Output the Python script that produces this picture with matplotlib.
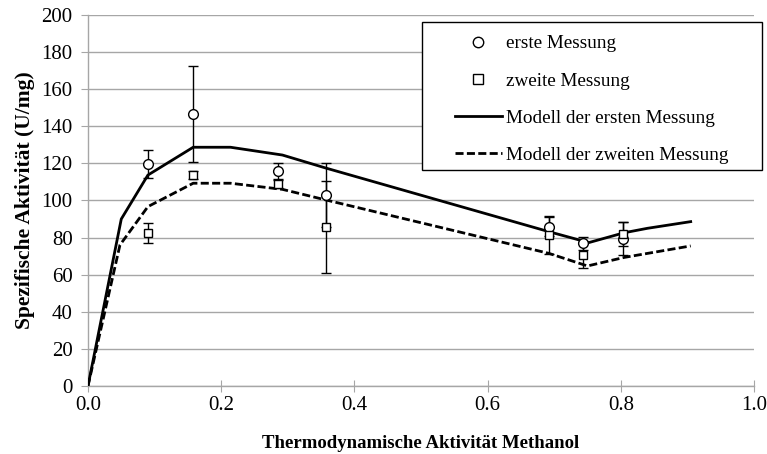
import matplotlib
matplotlib.use('Agg')
import matplotlib.pyplot as plt
from matplotlib.lines import Line2D
from matplotlib.patches import Rectangle

plt.rcParams['font.family'] = ['Liberation Serif', 'DejaVu Serif']

# Messwerte (Methanol-Aktivität, spezifische Aktivität, Fehler)
x_mess = [0.090, 0.158, 0.285, 0.357, 0.692, 0.744, 0.804]
y_erste = [119.5, 146.6, 116.1, 103.0, 85.9, 76.9, 79.5]
err_erste = [7.5, 25.7, 4.3, 17.4, 5.0, 3.4, 9.0]
y_zweite = [82.3, 113.7, 108.9, 85.9, 81.4, 70.6, 82.0]
err_zweite = [5.4, 2.2, 2.0, 24.8, 10.2, 7.0, 6.5]

# Modellkurven
x_mod1 = [0.0, 0.050, 0.090, 0.158, 0.214, 0.292, 0.357, 0.692, 0.752, 0.805, 0.840, 0.905]
y_mod1 = [0.0, 90.0, 113.7, 128.7, 128.7, 124.5, 117.5, 83.2, 77.3, 82.6, 85.0, 88.6]
x_mod2 = [0.0, 0.048, 0.090, 0.158, 0.214, 0.292, 0.357, 0.692, 0.750, 0.805, 0.905]
y_mod2 = [0.0, 76.0, 96.7, 109.3, 109.3, 106.0, 100.3, 71.5, 64.7, 69.3, 75.5]

labels = ['erste Messung', 'zweite Messung',
          'Modell der ersten Messung', 'Modell der zweiten Messung']

fig = plt.figure(figsize=(7.67, 4.54), dpi=100)
ax = fig.add_axes([0.1147, 0.1498, 0.8683, 0.8172])

ax.errorbar(x_mess, y_erste, yerr=err_erste, fmt='o', mfc='white', mec='black',
            ms=7, mew=1.0, ecolor='black', elinewidth=1.0, capsize=3.6, capthick=1.0,
            zorder=4)
ax.errorbar(x_mess, y_zweite, yerr=err_zweite, fmt='s', mfc='white', mec='black',
            ms=6, mew=1.0, ecolor='black', elinewidth=1.0, capsize=3.6, capthick=1.0,
            zorder=4)
ax.plot(x_mod1, y_mod1, color='black', lw=2.0, zorder=3)
ax.plot(x_mod2, y_mod2, color='black', lw=2.0, dashes=(2.9, 1.2), zorder=3)

ax.set_xlim(0, 1.0)
ax.set_ylim(0, 200)
ax.set_xticks([0.0, 0.2, 0.4, 0.6, 0.8, 1.0])
ax.set_xticklabels(['0.0', '0.2', '0.4', '0.6', '0.8', '1.0'])
ax.set_yticks(range(0, 201, 20))

ax.grid(axis='y', color='#a6a6a6', lw=1.0)
ax.set_axisbelow(True)
for s in ['top', 'right']:
    ax.spines[s].set_visible(False)
for s in ['left', 'bottom']:
    ax.spines[s].set_color('#a6a6a6')
    ax.spines[s].set_linewidth(1.0)
ax.tick_params(axis='x', direction='inout', length=9, color='#a6a6a6', labelsize=15, pad=3)
ax.tick_params(axis='y', direction='out', length=5, color='#a6a6a6', labelsize=15, pad=6)

ax.set_xlabel('Thermodynamische Aktivität Methanol', fontsize=13.5, fontweight='bold', labelpad=14)
ax.set_ylabel('Spezifische Aktivität (U/mg)', fontsize=15.5, fontweight='bold', labelpad=5)

# Rahmen der Legende (ragt über die Achse hinaus)
frame = Rectangle((422 / 767, 1 - 170 / 454), 340 / 767, 148 / 454,
                  transform=fig.transFigure, facecolor='white', edgecolor='black',
                  lw=1.0, zorder=5, clip_on=False)
ax.add_patch(frame)

# Legende: Symbole ohne Fehlerbalken
handles = [
    Line2D([], [], ls='none', marker='o', mfc='white', mec='black', ms=7.5, mew=1.0),
    Line2D([], [], ls='none', marker='s', mfc='white', mec='black', ms=6.5, mew=1.0),
    Line2D([], [], color='black', lw=2.0),
    Line2D([], [], color='black', lw=2.0, dashes=(2.9, 1.2)),
]
leg = ax.legend(handles, labels, loc='upper left',
                bbox_to_anchor=(455 / 767, 1 - 35 / 454),
                bbox_transform=fig.transFigure, fontsize=13.8, frameon=False,
                handlelength=2.45, handletextpad=0.2, labelspacing=1.03,
                borderpad=0, borderaxespad=0)
leg.set_zorder(6)

fig.savefig('out.png', dpi=100)
